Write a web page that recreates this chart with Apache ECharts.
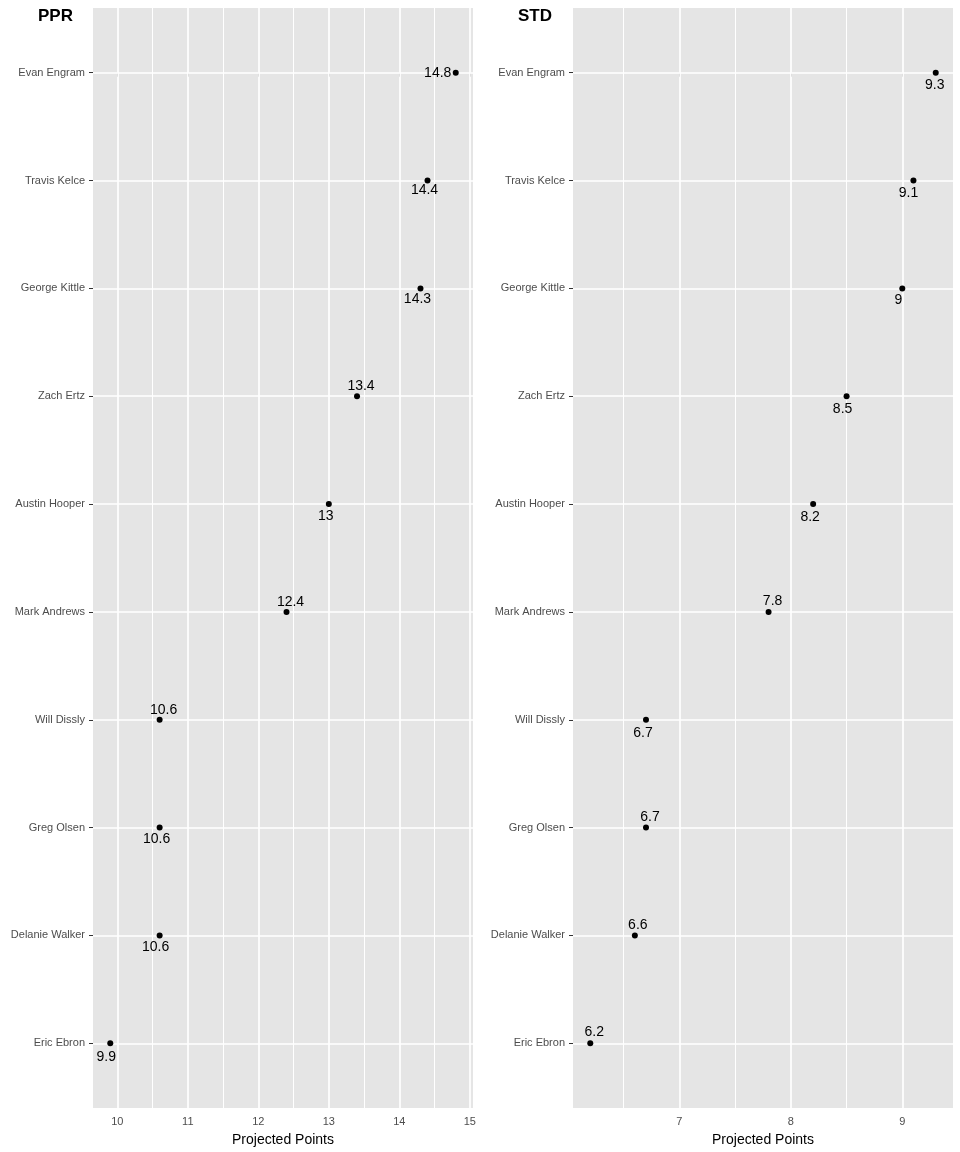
<!DOCTYPE html>
<html>
<head>
<meta charset="utf-8">
<script src="https://cdn.jsdelivr.net/npm/echarts@6/dist/echarts.min.js"></script>
<style>
  html, body { margin: 0; padding: 0; background: #fff; }
  #chart { width: 960px; height: 1152px; }
</style>
</head>
<body>
<div id="chart"></div>
<script>
// ---- data ----
const players = ["Evan Engram", "Travis Kelce", "George Kittle", "Zach Ertz", "Austin Hooper",
                 "Mark Andrews", "Will Dissly", "Greg Olsen", "Delanie Walker", "Eric Ebron"];
const pprPoints = [14.8, 14.4, 14.3, 13.4, 13.0, 12.4, 10.6, 10.6, 10.6, 9.9];
const stdPoints = [9.3, 9.1, 9.0, 8.5, 8.2, 7.8, 6.7, 6.7, 6.6, 6.2];
const pprTicks = [10, 11, 12, 13, 14, 15];
const stdTicks = [7, 8, 9];
const pprMinor = [10.5, 11.5, 12.5, 13.5, 14.5];
const stdMinor = [6.5, 7.5, 8.5];
const panelTitles = ["PPR", "STD"];
const axisTitle = "Projected Points";

// ---- label placement (style only, repel-like offsets in px) ----
const pprLabelOffsets = [[-18, 0], [-3, 10], [-3, 11], [4, -10], [-3, 12], [4, -10], [4, -10], [-3, 12], [-4, 12], [-4, 14]];
const stdLabelOffsets = [[-1, 12], [-5, 13], [-4, 12], [-4, 13], [-3, 13], [4, -11], [-3, 13], [4, -10], [3, -10], [4, -11]];

function expand(vals) {
  const lo = Math.min(...vals), hi = Math.max(...vals);
  const pad = (hi - lo) * 0.05;
  return [lo - pad, hi + pad];
}

const font = "Liberation Sans, Arial, Helvetica, sans-serif";
const idx = players.map((_, i) => i);
const yMin = -0.6, yMax = players.length - 0.4;

function xAxisFor(gi, vals, ticks) {
  const [mn, mx] = expand(vals);
  return {
    type: 'value', gridIndex: gi, min: mn, max: mx,
    name: axisTitle, nameLocation: 'middle', nameGap: 25,
    nameTextStyle: { color: '#000', fontSize: 14, fontFamily: font },
    axisLine: { show: false },
    axisTick: { show: true, length: 4, lineStyle: { color: '#333333', width: 1 }, customValues: ticks },
    axisLabel: { show: true, color: '#4D4D4D', fontSize: 11, fontFamily: font, margin: 8, customValues: ticks,
                 formatter: v => String(v) },
    splitLine: { show: false }
  };
}
function yAxisFor(gi) {
  return {
    type: 'value', gridIndex: gi, min: yMin, max: yMax, inverse: true,
    axisLine: { show: false },
    axisTick: { show: true, length: 4, lineStyle: { color: '#333333', width: 1 }, customValues: idx },
    axisLabel: { show: true, color: '#4D4D4D', fontSize: 11, fontFamily: font, margin: 8, customValues: idx,
                 formatter: v => players[Math.round(v)] || '' },
    splitLine: { show: false }
  };
}
function gridSeries(gi, vals, ticks, minor) {
  const [mn, mx] = expand(vals);
  const lines = [];
  idx.forEach(v => lines.push([{ coord: [mn, v], lineStyle: { color: '#ffffff', width: 1.7, type: 'solid' } }, { coord: [mx, v] }]));
  minor.forEach(v => lines.push([{ coord: [v, yMin], lineStyle: { color: '#ffffff', width: 1, type: 'solid' } }, { coord: [v, yMax] }]));
  ticks.forEach(v => lines.push([{ coord: [v, yMin], lineStyle: { color: '#ffffff', width: 1.7, type: 'solid' } }, { coord: [v, yMax] }]));
  return {
    type: 'scatter', xAxisIndex: gi, yAxisIndex: gi, data: [], z: 1, silent: true,
    markLine: { silent: true, symbol: ['none', 'none'], label: { show: false }, animation: false,
                emphasis: { disabled: true }, data: lines }
  };
}
function pointSeries(gi, vals, offsets) {
  return {
    type: 'scatter', xAxisIndex: gi, yAxisIndex: gi, z: 5, symbolSize: 6,
    itemStyle: { color: '#000000', opacity: 1 },
    data: vals.map((v, i) => ({
      value: [v, i],
      label: {
        show: true, position: 'inside', offset: offsets[i],
        formatter: String(v), color: '#000000', fontSize: 14, fontFamily: font
      }
    })),
    animation: false
  };
}

const chart = echarts.init(document.getElementById('chart'), null, { renderer: 'canvas' });
chart.setOption({
  backgroundColor: '#ffffff',
  animation: false,
  title: [
    { text: panelTitles[0], left: 33, top: 3, textStyle: { fontSize: 17, fontWeight: 'bold', color: '#000', fontFamily: font } },
    { text: panelTitles[1], left: 513, top: 3, textStyle: { fontSize: 17, fontWeight: 'bold', color: '#000', fontFamily: font } }
  ],
  grid: [
    { left: 93, top: 8, width: 380, height: 1101, show: true, backgroundColor: '#E5E5E5', borderWidth: 0 },
    { left: 573, top: 8, width: 380, height: 1101, show: true, backgroundColor: '#E5E5E5', borderWidth: 0 }
  ],
  xAxis: [xAxisFor(0, pprPoints, pprTicks), xAxisFor(1, stdPoints, stdTicks)],
  yAxis: [yAxisFor(0), yAxisFor(1)],
  series: [
    gridSeries(0, pprPoints, pprTicks, pprMinor),
    gridSeries(1, stdPoints, stdTicks, stdMinor),
    pointSeries(0, pprPoints, pprLabelOffsets),
    pointSeries(1, stdPoints, stdLabelOffsets)
  ]
});
</script>
</body>
</html>
